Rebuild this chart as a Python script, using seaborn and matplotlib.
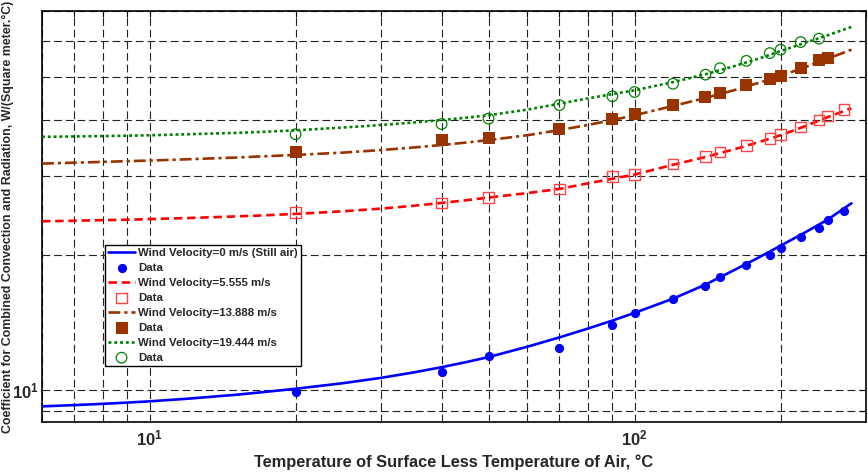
import matplotlib
matplotlib.use("Agg")
import matplotlib.pyplot as plt
import matplotlib.ticker as mticker
import seaborn as sns
import numpy as np

# ---- data ----
x_fit = [6, 7, 8, 9, 10, 12, 15, 17, 20, 25, 30, 35, 40, 45, 50, 60, 70, 80, 90, 100,
         120, 140, 160, 180, 200, 225, 250, 280]
fit_still = [9.21, 9.27, 9.33, 9.39, 9.45, 9.58, 9.77, 9.90, 10.08, 10.37, 10.66, 10.96, 11.26, 11.56,
             11.86, 12.5, 13.12, 13.72, 14.3, 14.88, 16.0, 17.2, 18.5, 19.75, 21.0, 22.5, 24.0, 26.1]
fit_5555 = [23.8, 23.87, 23.94, 24.0, 24.07, 24.2, 24.4, 24.52, 24.72, 25.05, 25.4, 25.77, 26.15, 26.52,
            26.88, 27.5, 28.1, 28.9, 29.6, 30.25, 31.8, 33.1, 34.4, 35.7, 37.0, 38.8, 40.6, 42.5]
fit_13888 = [32.0, 32.15, 32.28, 32.4, 32.5, 32.72, 33.0, 33.2, 33.45, 33.85, 34.3, 34.75, 35.2, 35.65,
             36.1, 37.0, 38.0, 39.0, 40.0, 41.0, 43.0, 44.8, 46.6, 48.4, 50.2, 52.5, 54.8, 57.4]
fit_19444 = [36.7, 36.78, 36.85, 36.92, 37.0, 37.2, 37.45, 37.65, 37.95, 38.5, 39.0, 39.5, 40.0, 40.5,
             41.0, 42.2, 43.5, 44.7, 45.7, 46.6, 48.6, 50.6, 52.7, 54.8, 57.0, 59.5, 61.8, 64.5]

x_data = [20, 40, 50, 70, 90, 100, 120, 140, 150, 170, 190, 200, 220, 240, 250, 270]
data_still = [9.9, 10.97, 11.9, 12.4, 13.97, 14.88, 15.96, 17.07, 17.9, 19.01, 19.98, 20.78, 21.99, 23.03, 23.96, 25.1]
data_5555 = [24.9, 26.15, 26.88, 28.1, 29.93, 30.26, 31.96, 33.18, 33.93, 35.1, 36.4, 37.15, 38.6, 40.06, 40.8, 42.2]
data_13888 = [34.0, 36.1, 36.4, 38.3, 40.2, 41.2, 43.2, 45.1, 45.9, 48.0, 49.5, 50.1, 52.2, 54.4, 55.0]
data_19444 = [37.2, 39.2, 40.3, 43.2, 45.2, 46.2, 48.2, 50.5, 52.2, 54.2, 56.4, 57.4, 59.7, 60.75]

labels_fit = ["Wind Velocity=0 m/s (Still air)", "Wind Velocity=5.555 m/s",
              "Wind Velocity=13.888 m/s", "Wind Velocity=19.444 m/s"]
label_data = "Data"

x_label = "Temperature of Surface Less Temperature of Air, \u00b0C"
y_label = "Coefficient for Combined Convection and Radiation, W/(Square meter.\u00b0C)"

# ---- style ----
sns.set_theme(style="white")
plt.rcParams["font.family"] = ["Liberation Sans", "DejaVu Sans"]
plt.rcParams["mathtext.fontset"] = "custom"
plt.rcParams["mathtext.rm"] = "Liberation Sans"
plt.rcParams["mathtext.bf"] = "Liberation Sans:bold"

fig = plt.figure(figsize=(8.68, 4.75), dpi=100)
ax = fig.add_axes([42 / 868, 53 / 475, 824 / 868, 411 / 475])

c_blue = "#0000FF"
c_red = "#FF0000"
c_brown = "#993300"
c_green = "#008000"

series = [
    (fit_still, x_data, data_still, c_blue, "-", dict(marker="o", s=44, color=c_blue, edgecolor=c_blue, linewidth=0)),
    (fit_5555, x_data, data_5555, c_red, (0, (3.2, 1.8)), dict(marker="s", s=56, color=c_red, facecolors="none", edgecolor="#FF4444", linewidth=1.0)),
    (fit_13888, x_data[:len(data_13888)], data_13888, c_brown, (0, (4.5, 1.5, 1.2, 1.5)), dict(marker="s", s=66, color=c_brown, edgecolor=c_brown, linewidth=0)),
    (fit_19444, x_data[:len(data_19444)], data_19444, c_green, (0, (1.1, 1.1)), dict(marker="o", s=58, color=c_green, facecolors="none", edgecolor=c_green, linewidth=0.9)),
]

handles = []
for (fy, dx, dy, col, ls, skw), lab in zip(series, labels_fit):
    sns.lineplot(x=x_fit, y=fy, ax=ax, color=col, linewidth=1.9, linestyle=ls,
                 estimator=None, sort=True, legend=False, zorder=3)
    line = ax.lines[-1]
    line.set_label(lab)
    handles.append(line)
    sns.scatterplot(x=dx, y=dy, ax=ax, legend=False, zorder=4, **skw)
    coll = ax.collections[-1]
    coll.set_label(label_data)
    handles.append(coll)

ax.set_xscale("log")
ax.set_yscale("log")
ax.set_xlim(6, 300)
ax.set_ylim(8.5, 70)

# ticks
ax.xaxis.set_major_locator(mticker.FixedLocator([10, 100]))
ax.xaxis.set_major_formatter(mticker.FixedFormatter([r"$\mathbf{10^{1}}$", r"$\mathbf{10^{2}}$"]))
ax.xaxis.set_minor_locator(mticker.LogLocator(base=10, subs=np.arange(2, 10), numticks=20))
ax.xaxis.set_minor_formatter(mticker.NullFormatter())
ax.yaxis.set_major_locator(mticker.FixedLocator([10]))
ax.yaxis.set_major_formatter(mticker.FixedFormatter([r"$\mathbf{10^{1}}$"]))
ax.yaxis.set_minor_locator(mticker.LogLocator(base=10, subs=np.arange(2, 10), numticks=20))
ax.yaxis.set_minor_formatter(mticker.NullFormatter())
ax.tick_params(which="both", direction="in", top=True, right=True, length=4, width=0.8, color="black")
ax.tick_params(which="major", labelsize=12)
ax.tick_params(axis="x", which="major", pad=5)
ax.tick_params(axis="y", which="major", pad=2)

ax.grid(True, which="both", color="#222222", linestyle=(0, (7, 3.5)), linewidth=0.8)
ax.set_axisbelow(True)
for sp in ax.spines.values():
    sp.set_color("black")
    sp.set_linewidth(1.2)

ax.set_xlabel(x_label, fontsize=11.8, fontweight="bold")
ax.xaxis.set_label_coords(0.5, -0.078)
ax.xaxis.label.set_verticalalignment("top")
ax.set_ylabel(y_label, fontsize=8.9, fontweight="bold")
ax.yaxis.set_label_coords(-0.034, 0.499)

leg = ax.legend(handles=handles, loc="lower left", bbox_to_anchor=(0.0765, 0.136),
                borderaxespad=0, fancybox=False, framealpha=1, edgecolor="black",
                prop={"weight": "bold", "size": 8.2}, handlelength=2.3, handletextpad=0.3,
                labelspacing=0.43, borderpad=0.3, scatterpoints=1)
leg.get_frame().set_linewidth(1.0)
leg.set_zorder(10)

fig.savefig("out.png", dpi=100)
